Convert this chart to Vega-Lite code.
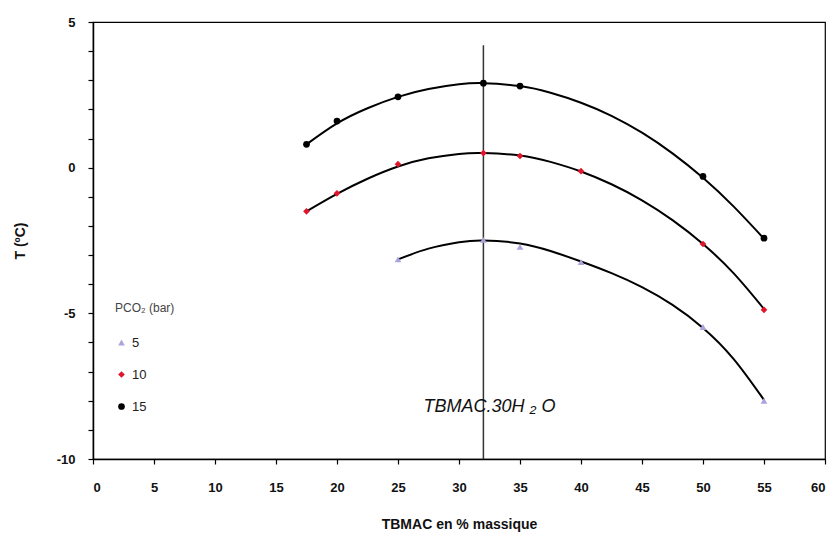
{
  "$schema": "https://vega.github.io/schema/vega-lite/v6.json",
  "width": 732,
  "height": 437,
  "autosize": "none",
  "padding": {"left": 93, "top": 22, "right": 13, "bottom": 81},
  "background": "white",
  "config": {
    "view": {"stroke": "#000", "strokeWidth": 1.2},
    "font": "Liberation Sans",
    "axis": {"grid": false, "domainColor": "#000", "domainWidth": 1.5, "tickColor": "#000", "tickWidth": 1.2, "labelColor": "#111", "titleColor": "#111", "labelFontWeight": "bold", "titleFontWeight": "bold", "labelFontSize": 13, "titleFontSize": 14}
  },
  "datasets": {
    "points": [
      {"P": "15", "x": 17.5, "T": 0.8}, {"P": "15", "x": 20, "T": 1.6}, {"P": "15", "x": 25, "T": 2.43}, {"P": "15", "x": 32, "T": 2.9}, {"P": "15", "x": 35, "T": 2.8}, {"P": "15", "x": 50, "T": -0.3}, {"P": "15", "x": 55, "T": -2.42},
      {"P": "10", "x": 17.5, "T": -1.5}, {"P": "10", "x": 20, "T": -0.88}, {"P": "10", "x": 25, "T": 0.12}, {"P": "10", "x": 32, "T": 0.5}, {"P": "10", "x": 35, "T": 0.4}, {"P": "10", "x": 40, "T": -0.12}, {"P": "10", "x": 50, "T": -2.62}, {"P": "10", "x": 55, "T": -4.88},
      {"P": "5", "x": 25, "T": -3.15}, {"P": "5", "x": 32, "T": -2.48}, {"P": "5", "x": 35, "T": -2.72}, {"P": "5", "x": 40, "T": -3.24}, {"P": "5", "x": 50, "T": -5.47}, {"P": "5", "x": 55, "T": -8.0}
    ],
    "curves": [
      {"P": "15", "x": 17.5, "T": 0.8}, {"P": "15", "x": 20, "T": 1.52}, {"P": "15", "x": 22.5, "T": 2.04}, {"P": "15", "x": 25, "T": 2.43}, {"P": "15", "x": 27.5, "T": 2.7}, {"P": "15", "x": 30, "T": 2.86}, {"P": "15", "x": 32, "T": 2.9}, {"P": "15", "x": 35, "T": 2.8}, {"P": "15", "x": 37.5, "T": 2.57}, {"P": "15", "x": 40, "T": 2.23}, {"P": "15", "x": 42.5, "T": 1.78}, {"P": "15", "x": 45, "T": 1.2}, {"P": "15", "x": 47.5, "T": 0.49}, {"P": "15", "x": 50, "T": -0.35}, {"P": "15", "x": 52.5, "T": -1.33}, {"P": "15", "x": 55, "T": -2.44},
      {"P": "10", "x": 17.5, "T": -1.5}, {"P": "10", "x": 20, "T": -0.9}, {"P": "10", "x": 22.5, "T": -0.38}, {"P": "10", "x": 25, "T": 0.04}, {"P": "10", "x": 27.5, "T": 0.32}, {"P": "10", "x": 30, "T": 0.47}, {"P": "10", "x": 32, "T": 0.5}, {"P": "10", "x": 35, "T": 0.42}, {"P": "10", "x": 37.5, "T": 0.2}, {"P": "10", "x": 40, "T": -0.13}, {"P": "10", "x": 42.5, "T": -0.57}, {"P": "10", "x": 45, "T": -1.12}, {"P": "10", "x": 47.5, "T": -1.8}, {"P": "10", "x": 50, "T": -2.62}, {"P": "10", "x": 52.5, "T": -3.62}, {"P": "10", "x": 55, "T": -4.85},
      {"P": "5", "x": 25, "T": -3.15}, {"P": "5", "x": 27.5, "T": -2.78}, {"P": "5", "x": 30, "T": -2.56}, {"P": "5", "x": 32, "T": -2.5}, {"P": "5", "x": 35, "T": -2.6}, {"P": "5", "x": 37.5, "T": -2.86}, {"P": "5", "x": 40, "T": -3.22}, {"P": "5", "x": 42.5, "T": -3.62}, {"P": "5", "x": 45, "T": -4.1}, {"P": "5", "x": 47.5, "T": -4.71}, {"P": "5", "x": 50, "T": -5.5}, {"P": "5", "x": 52.5, "T": -6.56}, {"P": "5", "x": 55, "T": -7.97}
    ],
    "vline": [{"x": 32, "y": -10, "y2": 4.2}],
    "annot": [{"x": 32.5, "T": -8.2, "label": "TBMAC.30H ₂ O"}]
  },
  "resolve": {"axis": {"y": "independent"}},
  "layer": [
    {
      "data": {"name": "curves"},
      "mark": {"type": "line", "color": "#000", "strokeWidth": 2, "interpolate": "natural"},
      "encoding": {
        "x": {"field": "x", "type": "quantitative", "scale": {"domain": [0, 60], "nice": false}, "axis": {"values": [0,5,10,15,20,25,30,35,40,45,50,55,60], "title": "TBMAC en % massique", "titlePadding": 23, "labelPadding": 17, "tickSize": 5, "labelOverlap": false}},
        "y": {"field": "T", "type": "quantitative", "scale": {"domain": [-10, 5], "nice": false}, "axis": {"orient": "left", "values": [-10, -5, 0, 5], "labelExpr": "replace(datum.label, '−', '-')", "labelOverlap": false, "labelFlush": false, "title": "T (ºC)", "titlePadding": 29, "labelPadding": 13, "tickSize": 5}},
        "detail": {"field": "P"}
      }
    },
    {
      "data": {"name": "vline"},
      "mark": {"type": "rule", "color": "#333", "strokeWidth": 1.5},
      "encoding": {
        "x": {"field": "x", "type": "quantitative"},
        "y": {"field": "y", "type": "quantitative", "axis": {"orient": "left", "values": [-9,-8,-7,-6,-4,-3,-2,-1,1,2,3,4], "labels": false, "domain": false, "title": null, "tickSize": 5}},
        "y2": {"field": "y2"}
      }
    },
    {
      "data": {"name": "points"},
      "mark": {"type": "point", "filled": true, "opacity": 1},
      "encoding": {
        "x": {"field": "x", "type": "quantitative"},
        "y": {"field": "T", "type": "quantitative", "axis": null},
        "color": {"field": "P", "type": "nominal", "scale": {"domain": ["5", "10", "15"], "range": ["#a9a5dc", "#e0142a", "#000000"]}, "legend": {"title": "PCO₂ (bar)", "orient": "none", "legendX": 22, "legendY": 281, "titleFontSize": 12, "titleFontWeight": "normal", "titleColor": "#444", "labelFontSize": 13, "labelColor": "#222", "rowPadding": 18, "titlePadding": 21, "symbolSize": 45}},
        "shape": {"field": "P", "type": "nominal", "scale": {"domain": ["5", "10", "15"], "range": ["triangle-up", "diamond", "circle"]}, "legend": null},
        "size": {"value": 45}
      }
    },
    {
      "data": {"name": "annot"},
      "mark": {"type": "text", "fontStyle": "italic", "fontSize": 18, "color": "#111", "font": "Liberation Sans"},
      "encoding": {
        "x": {"field": "x", "type": "quantitative"},
        "y": {"field": "T", "type": "quantitative", "axis": null},
        "text": {"field": "label"}
      }
    }
  ]
}
